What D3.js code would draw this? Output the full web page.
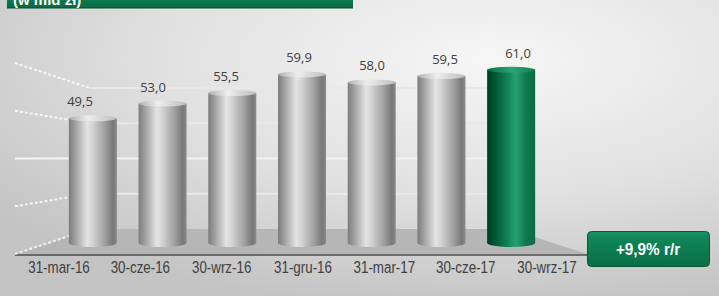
<!DOCTYPE html>
<html><head><meta charset="utf-8">
<script src="https://cdn.jsdelivr.net/npm/d3@7"></script>
<style>
html,body{margin:0;padding:0;background:#d8d8d8;}
svg{display:block;}
</style></head>
<body>
<svg id="chart" width="719" height="296"></svg>
<script>
// ---- data ----
const categories = ["31-mar-16","30-cze-16","30-wrz-16","31-gru-16","31-mar-17","30-cze-17","30-wrz-17"];
const values = [49.5, 53.0, 55.5, 59.9, 58.0, 59.5, 61.0];
const valueLabels = ["49,5","53,0","55,5","59,9","58,0","59,5","61,0"];
const gridValues = [20, 30, 40, 50, 60];
const title = "(w mld zł)";
const changeLabel = "+9,9% r/r";
const highlightIndex = 6;

const svg = d3.select("#chart");
const W = 719, H = 296;
const defs = svg.append("defs");

// background radial gradient
const bg = defs.append("radialGradient").attr("id","bg")
  .attr("cx","0.68").attr("cy","0.2").attr("r","0.85").attr("fx","0.68").attr("fy","0.2");
bg.append("stop").attr("offset","0%").attr("stop-color","#f6f6f6");
bg.append("stop").attr("offset","55%").attr("stop-color","#e0e0e0");
bg.append("stop").attr("offset","100%").attr("stop-color","#c4c4c4");
svg.append("rect").attr("width",W).attr("height",H).attr("fill","url(#bg)");

// cylinder gradients
function cyl(id, stops){
  const g = defs.append("linearGradient").attr("id",id).attr("x1","0").attr("x2","1").attr("y1","0").attr("y2","0");
  stops.forEach(s=>g.append("stop").attr("offset",s[0]).attr("stop-color",s[1]));
}
cyl("gray",[["0%","#7c7c7c"],["12%","#9c9c9c"],["38%","#e4e4e4"],["50%","#d2d2d2"],["75%","#a0a0a0"],["92%","#787878"],["100%","#8a8a8a"]]);
cyl("grayTop",[["0%","#b0b0b0"],["40%","#eeeeee"],["100%","#bcbcbc"]]);
cyl("green",[["0%","#003a20"],["18%","#005a36"],["45%","#14875a"],["60%","#27a172"],["80%","#0f7a4f"],["100%","#0a6a44"]]);
cyl("greenTop",[["0%","#0b6a42"],["50%","#2aa476"],["100%","#128459"]]);

const hg = defs.append("linearGradient").attr("id","hdr").attr("x1","0").attr("x2","0").attr("y1","0").attr("y2","1");
hg.append("stop").attr("offset","0%").attr("stop-color","#0d7d4f");
hg.append("stop").attr("offset","100%").attr("stop-color","#0a6842");
const bxg = defs.append("linearGradient").attr("id","box").attr("x1","0").attr("x2","0").attr("y1","0").attr("y2","1");
bxg.append("stop").attr("offset","0%").attr("stop-color","#1a9466");
bxg.append("stop").attr("offset","20%").attr("stop-color","#0f8557");
bxg.append("stop").attr("offset","100%").attr("stop-color","#0a6e47");

// ---- scales ----
const yBack = d3.scaleLinear().domain([20,60]).range([229,88]);
const yFront = d3.scaleLinear().domain([20,60]).range([254,63]);
const yBar = d3.scaleLinear().domain([20,60]).range([243,74]);
const xBar = d3.scalePoint().domain(categories).range([58,546]).padding(0.5);
const xVal = d3.scalePoint().domain(categories).range([80,518]);
const xLab = d3.scalePoint().domain(categories).range([59,547]);
const barW = 48;
const wallL = 15, wallBackL = 90, wallBackR = 510, floorFrontR = 587;

// floor
svg.append("path")
  .attr("d",`M${wallBackL},${yBack(20)}L${wallBackR},${yBack(20)}L${floorFrontR},${yFront(20)}L${wallL},${yFront(20)}Z`)
  .attr("fill","#b6b6b6");
svg.append("line").attr("x1",wallL).attr("x2",floorFrontR).attr("y1",yFront(20)+1).attr("y2",yFront(20)+1)
  .attr("stroke","#4d4d4d").attr("stroke-width",1.6);

// back wall gridlines
gridValues.slice(1).forEach(v=>{
  svg.append("line").attr("x1",wallBackL).attr("x2",wallBackR).attr("y1",yBack(v)).attr("y2",yBack(v))
    .attr("stroke", v===40 ? "#f2f2f2" : "#e8e8e8").attr("stroke-width",2);
});
// left wall gridlines
gridValues.forEach(v=>{
  svg.append("line").attr("x1",wallL).attr("x2",wallBackL).attr("y1",yFront(v)).attr("y2",yBack(v))
    .attr("stroke","#ffffff").attr("stroke-width",2)
    .attr("stroke-dasharray", v===40 ? null : "3,2").attr("opacity",0.8);
});

// cylinders
const bars = svg.append("g");
categories.forEach((c,i)=>{
  const cx = xBar(c), x0 = cx - barW/2;
  const top = yBar(values[i]), bot = yBar(20);
  const hl = i===highlightIndex;
  const g = bars.append("g");
  g.append("ellipse").attr("cx",cx).attr("cy",bot).attr("rx",barW/2).attr("ry",4)
    .attr("fill", hl ? "url(#green)" : "url(#gray)");
  g.append("rect").attr("x",x0).attr("y",top).attr("width",barW).attr("height",bot-top)
    .attr("fill", hl ? "url(#green)" : "url(#gray)");
  g.append("ellipse").attr("cx",cx).attr("cy",top).attr("rx",barW/2).attr("ry",3)
    .attr("fill", hl ? "url(#greenTop)" : "url(#grayTop)");
});

// value labels
svg.append("g").selectAll("text").data(categories).join("text")
  .attr("x",c=>xVal(c)).attr("y",(c,i)=>yBar(values[i])-12)
  .attr("text-anchor","middle")
  .attr("font-family","'Open Sans', 'Noto Sans', sans-serif").attr("font-size",13)
  .attr("fill","#404040")
  .text((c,i)=>valueLabels[i]);

// category labels (condensed: Arial-Narrow-like via horizontal scaling)
svg.append("g").selectAll("text").data(categories).join("text")
  .attr("transform",c=>`translate(${xLab(c)},273) scale(0.81,1)`)
  .attr("text-anchor","middle")
  .attr("font-family","'Liberation Sans', Arial, sans-serif")
  .attr("font-size",16.5).attr("fill","#404040")
  .text(c=>c);

// header bar
svg.append("rect").attr("x",7).attr("y",-2).attr("width",346).attr("height",10).attr("fill","url(#hdr)");
svg.append("line").attr("x1",7).attr("x2",353).attr("y1",8).attr("y2",8).attr("stroke","#08502f").attr("stroke-width",1);
svg.append("text").attr("x",13).attr("y",4.5)
  .attr("font-family","'Liberation Sans', Arial, sans-serif").attr("font-weight","bold")
  .attr("font-size",15).attr("fill","#ffffff").text(title);

// change box
svg.append("rect").attr("x",587.5).attr("y",231.5).attr("width",122).attr("height",35).attr("rx",4)
  .attr("fill","url(#box)").attr("stroke","#07573a").attr("stroke-width",1);
svg.append("text").attr("transform","translate(648,255) scale(0.9,1)")
  .attr("text-anchor","middle")
  .attr("font-family","'Liberation Sans', Arial, sans-serif").attr("font-weight","bold")
  .attr("font-size",17).attr("fill","#ffffff").text(changeLabel);
</script>
</body></html>
